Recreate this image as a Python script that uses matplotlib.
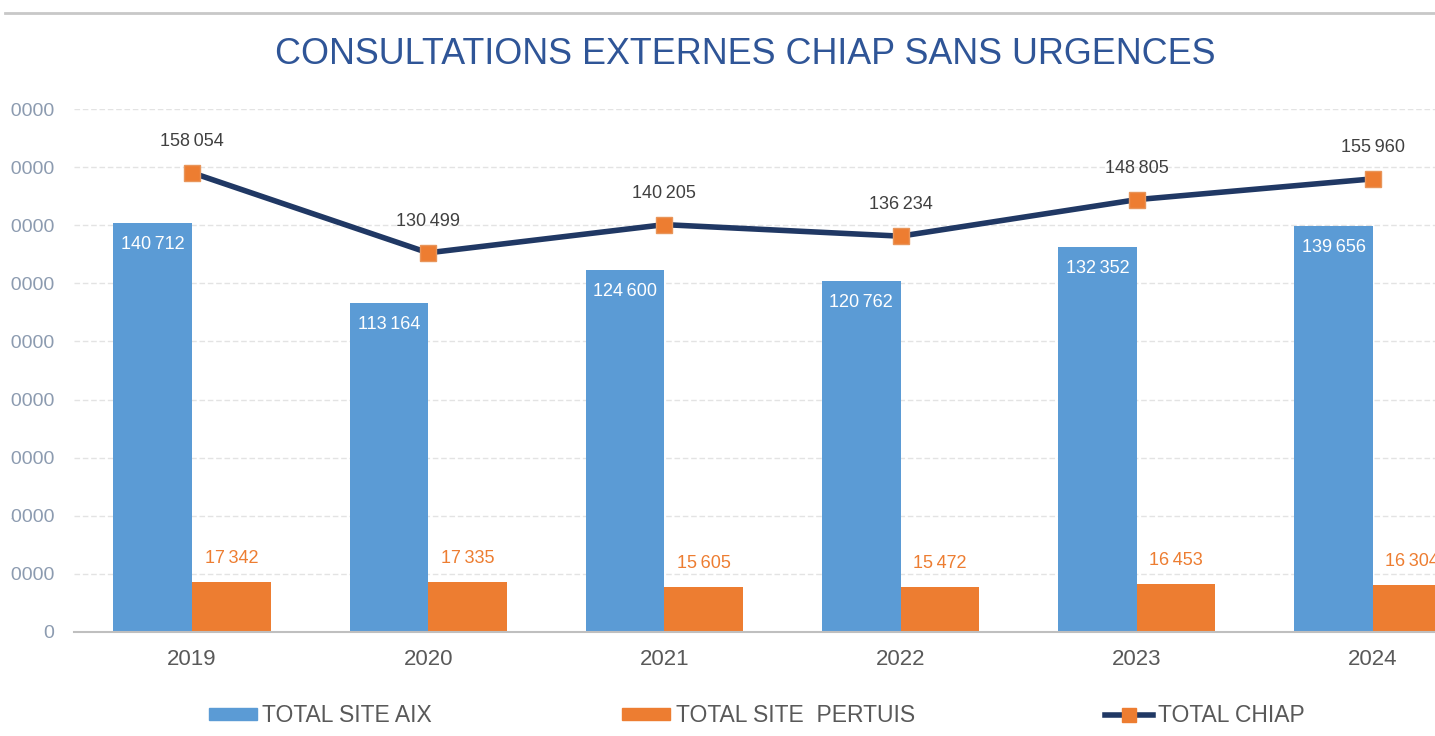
import matplotlib
matplotlib.use("Agg")
import matplotlib.pyplot as plt
from matplotlib.lines import Line2D
from matplotlib.patches import Patch, Rectangle
import numpy as np

plt.rcParams['font.family'] = ['Liberation Sans', 'DejaVu Sans']

years = ["2019", "2020", "2021", "2022", "2023", "2024"]
aix = [140712, 113164, 124600, 120762, 132352, 139656]
pertuis = [17342, 17335, 15605, 15472, 16453, 16304]
chiap = [158054, 130499, 140205, 136234, 148805, 155960]
yticks = [0, 20000, 40000, 60000, 80000, 100000, 120000, 140000, 160000, 180000]

BLUE = "#5B9BD5"
ORANGE = "#ED7D31"
NAVY = "#203864"
TICKC = "#8C9BB0"
GRAYTXT = "#595959"

def fmt(v):
    return "{:,}".format(v).replace(",", "\u2009")

W, H = 1435, 736
fig = plt.figure(figsize=(W / 100, H / 100), dpi=100)
ax = fig.add_axes([74 / W, (H - 632) / H, 1417 / W, 523 / H])

x = np.arange(len(years))
bw = 0.333
ax.bar(x - bw / 2, aix, width=bw, color=BLUE, zorder=2)
ax.bar(x + bw / 2, pertuis, width=bw, color=ORANGE, zorder=2)
ax.plot(x, chiap, color=NAVY, lw=4, marker="s", ms=12, mfc=ORANGE, mec="#E8955A",
        mew=1, zorder=4, solid_capstyle="round")

for i in range(len(years)):
    ax.text(x[i] - bw / 2, aix[i] - 7300, fmt(aix[i]), ha="center", va="center",
            color="white", fontsize=13, zorder=5)
    ax.text(x[i] + bw / 2, pertuis[i] + 8000, fmt(pertuis[i]), ha="center", va="center",
            color=ORANGE, fontsize=13, zorder=5)
    ax.text(x[i], chiap[i] + 10800, fmt(chiap[i]), ha="center", va="center",
            color="#404040", fontsize=13, zorder=5)

ax.set_xlim(-0.5, len(years) - 0.5)
ax.set_ylim(0, 180000)
ax.set_yticks(yticks)
ax.set_yticklabels([str(v) for v in yticks])
ax.set_xticks(x)
ax.set_xticklabels(years)
ax.tick_params(axis="y", length=0, pad=14, labelsize=14, labelcolor=TICKC)
ax.tick_params(axis="x", length=0, pad=12, labelsize=16, labelcolor=GRAYTXT)
ax.grid(axis="y", color="#E3E3E3", lw=1, ls=(0, (4, 2)), zorder=0)
for s in ["top", "right", "left"]:
    ax.spines[s].set_visible(False)
ax.spines["bottom"].set_color("#BFBFBF")
ax.spines["bottom"].set_linewidth(1.5)

# white margin at the left edge (reference screenshot is cropped there)
fig.add_artist(Rectangle((0, (H - 650) / H), 11 / W, 560 / H, transform=fig.transFigure,
                         facecolor="white", edgecolor="none", zorder=10))

fig.text(745 / W, 1 - 55 / H, "CONSULTATIONS EXTERNES CHIAP SANS URGENCES",
         ha="center", va="center", color="#2F5597", fontsize=25.8)

fig.add_artist(Line2D([5 / W, 1], [1 - 13 / H, 1 - 13 / H], color="#C8C8C8", lw=2,
                      transform=fig.transFigure))

handles = [Patch(color=BLUE), Patch(color=ORANGE),
           Line2D([], [], color=NAVY, lw=4, marker="s", ms=10, mfc=ORANGE, mec=ORANGE)]
labels = ["TOTAL SITE AIX", "TOTAL SITE  PERTUIS", "TOTAL CHIAP"]
leg = fig.legend(handles, labels, ncol=3, loc="center", bbox_to_anchor=(757 / W, 1 - 716 / H),
                 frameon=False, fontsize=16.5, handlelength=2.1, handleheight=0.45,
                 handletextpad=0.22, columnspacing=8.3)
for t in leg.get_texts():
    t.set_color(GRAYTXT)

fig.savefig("out.png", dpi=100)
